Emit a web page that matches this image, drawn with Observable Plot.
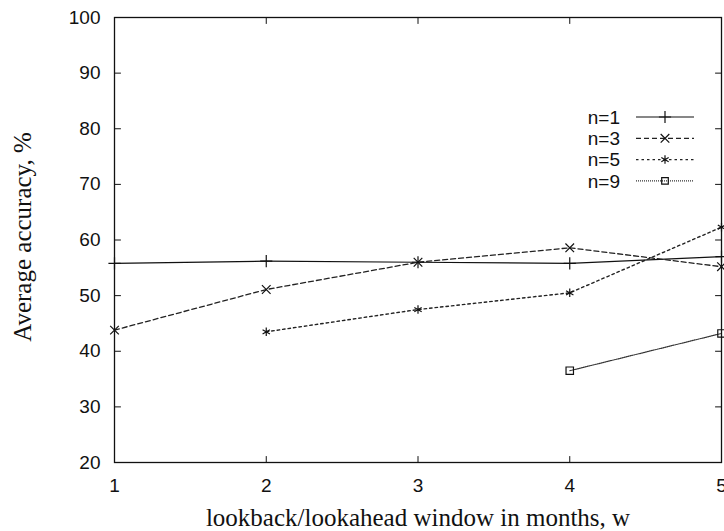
<!DOCTYPE html>
<html>
<head>
<meta charset="utf-8">
<script src="https://cdn.jsdelivr.net/npm/d3@7"></script>
<script src="https://cdn.jsdelivr.net/npm/@observablehq/plot@0.6"></script>
<style>
  body { margin: 0; background: #fff; }
  #chart { width: 724px; height: 531px; }
</style>
</head>
<body>
<div id="chart"></div>
<script>
// Lookback/lookahead window (months) on the x axis
const windows = [1, 2, 3, 4, 5];

// Average accuracy (%) per window size, one array per n
const seriesNames = ["n=1", "n=3", "n=5", "n=9"];
const accN1 = [55.8, 56.2, 56.0, 55.8, 57.0];
const accN3 = [43.8, 51.1, 56.0, 58.6, 55.2];
const accN5 = [null, 43.5, 47.5, 50.5, 62.3];
const accN9 = [null, null, null, 36.5, 43.2];

const xTicks = [1, 2, 3, 4, 5];
const yTicks = [20, 30, 40, 50, 60, 70, 80, 90, 100];

const xTitle = "lookback/lookahead window in months, w";
const yTitle = "Average accuracy, %";

// Line dash and point symbol for each series
const seriesStyle = {
  "n=1": {dash: null, symbol: "plus", width: 1.2, color: "#111"},
  "n=3": {dash: "5,3", symbol: "times", width: 1.3, color: "#222"},
  "n=5": {dash: "2.5,3", symbol: "asterisk", width: 1.4, color: "#222"},
  "n=9": {dash: "1,1", symbol: "square", width: 1.2, color: "#333"}
};

const seriesValues = [accN1, accN3, accN5, accN9];
const rows = [];
seriesNames.forEach((name, i) => {
  seriesValues[i].forEach((v, j) => {
    if (v != null) rows.push({series: name, w: windows[j], acc: v});
  });
});

const sans = "'Liberation Sans', Arial, Helvetica, sans-serif";
const serif = "'Liberation Serif', 'Times New Roman', serif";

// A plain straight stroke for tick vectors
const tickShape = {draw(context, l) { context.moveTo(0, 0); context.lineTo(0, -l); }};
const tickLen = 6;
const [xMin, xMax] = [xTicks[0], xTicks[xTicks.length - 1]];
const [yMin, yMax] = [yTicks[0], yTicks[yTicks.length - 1]];
const tickOpts = {length: tickLen, anchor: "start", shape: tickShape, stroke: "#111", strokeWidth: 1};

const seriesMarks = seriesNames.flatMap((name) => {
  const s = seriesStyle[name];
  const data = rows.filter((d) => d.series === name);
  return [
    Plot.line(data, {x: "w", y: "acc", stroke: s.color, strokeWidth: s.width, strokeDasharray: s.dash}),
    Plot.dot(data, {x: "w", y: "acc", symbol: () => s.symbol, r: name === "n=9" ? 4.2 : 4, stroke: "#111", strokeWidth: 1.2, fill: "none"})
  ];
});

const chart = Plot.plot({
  width: 724,
  height: 531,
  marginLeft: 114,
  marginRight: 3,
  marginTop: 17,
  marginBottom: 69,
  style: {fontFamily: sans, fontSize: "19px", color: "#111", background: "#fff", overflow: "visible"},
  x: {domain: [xMin, xMax], label: null},
  y: {domain: [yMin, yMax], label: null},
  marks: [
    // tick labels
    Plot.axisY(yTicks, {anchor: "left", tickSize: 0, tickPadding: 14, fontSize: 19, tickFormat: "d"}),
    Plot.axisX(xTicks, {anchor: "bottom", tickSize: 0, tickPadding: 16, fontSize: 19, tickFormat: "d"}),
    // inward ticks, mirrored on all four sides
    Plot.vector(yTicks, {...tickOpts, x: xMin, y: (d) => d, rotate: 90}),
    Plot.vector(yTicks, {...tickOpts, x: xMax, y: (d) => d, rotate: -90}),
    Plot.vector(xTicks, {...tickOpts, x: (d) => d, y: yMin, rotate: 0}),
    Plot.vector(xTicks, {...tickOpts, x: (d) => d, y: yMax, rotate: 180}),
    ...seriesMarks,
    Plot.frame({stroke: "#111", strokeWidth: 1.3}),
    // axis titles
    Plot.text([xTitle], {text: (d) => d, frameAnchor: "bottom", dy: 63, lineAnchor: "bottom", textAnchor: "middle",
      fontFamily: serif, fontSize: 25, fill: "#111"}),
    Plot.text([yTitle], {text: (d) => d, frameAnchor: "left", dx: -84, dy: -3, rotate: -90, lineAnchor: "bottom",
      textAnchor: "middle", fontFamily: serif, fontSize: 25, fill: "#111"})
  ]
});

// Key in the upper right: label, line sample and point symbol per series
const svg = d3.select(chart.tagName.toLowerCase() === "svg" ? chart : chart.querySelector("svg"));
const key = svg.append("g").attr("class", "key");
const keyTop = 117, keyStep = 21.3, textRight = 620, lineX1 = 636, lineX2 = 694, symX = 665;
const symbolFor = {plus: d3.symbolPlus, times: d3.symbolTimes, asterisk: d3.symbolAsterisk, square: d3.symbolSquare2};
seriesNames.forEach((name, i) => {
  const s = seriesStyle[name];
  const y = keyTop + i * keyStep;
  key.append("text").attr("x", textRight).attr("y", y).attr("dy", "0.35em")
    .attr("text-anchor", "end").attr("font-family", sans).attr("font-size", 19).attr("fill", "#111").text(name);
  key.append("line").attr("x1", lineX1).attr("x2", lineX2).attr("y1", y).attr("y2", y)
    .attr("stroke", s.color).attr("stroke-width", s.width)
    .attr("stroke-dasharray", s.dash);
  const r = name === "n=9" ? 4.2 : 4;
  key.append("path").attr("transform", `translate(${symX},${y})`)
    .attr("d", d3.symbol(symbolFor[s.symbol], Math.PI * r * r)())
    .attr("fill", "none").attr("stroke", "#111").attr("stroke-width", 1.2);
});

document.getElementById("chart").appendChild(chart);
</script>
</body>
</html>
